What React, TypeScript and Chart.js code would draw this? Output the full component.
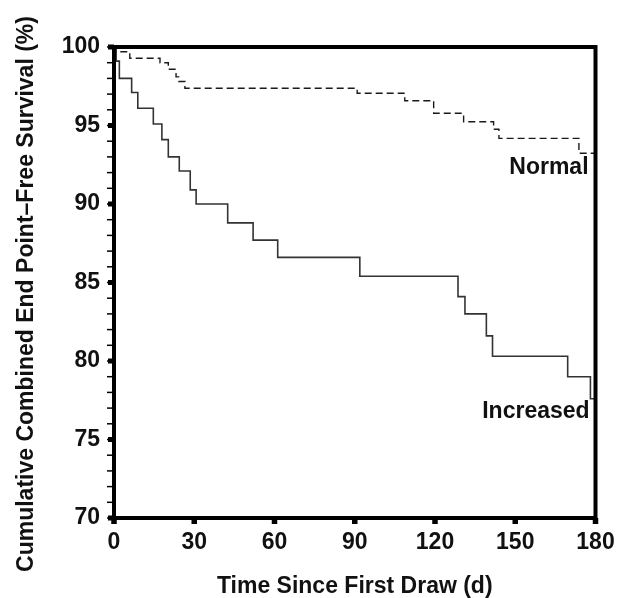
import React, { useEffect, useRef } from "react";
import { Chart, registerables } from "chart.js";

Chart.register(...registerables);

// ---- Data ----
const increasedDays = [0, 0.8, 2.0, 6.6, 8.9, 14.7, 17.9, 20.3, 24.4, 28.5, 30.7, 42.5, 52.0, 61.2, 91.9, 128.6, 131.2, 139.2, 141.5, 169.6, 178.1, 180];
const increasedSurvival = [100, 99.1, 98.0, 97.1, 96.1, 95.1, 94.1, 93.0, 92.1, 90.9, 90.0, 88.8, 87.7, 86.6, 85.4, 84.1, 83.0, 81.6, 80.3, 79.0, 77.6, 77.6];

const normalDays = [0, 0.6, 5.9, 17.2, 20.3, 23.2, 24.2, 26.5, 90.9, 108.7, 119.5, 130.7, 141.9, 143.9, 173.8, 180];
const normalSurvival = [100, 99.7, 99.28, 99.0, 98.58, 98.1, 97.8, 97.37, 97.05, 96.58, 95.78, 95.24, 94.76, 94.18, 93.23, 93.23];

const xTicks = [0, 30, 60, 90, 120, 150, 180];
const yMin = 70;
const yMax = 100;
const yStep = 5;
const yMinorStep = 1;

const xTitle = "Time Since First Draw (d)";
const yTitle = "Cumulative Combined End Point\u2013Free Survival (%)";

// curve labels: text, right-edge day, value (vertical centre)
const curveLabels = [
  { text: "Normal", day: 177.4, value: 92.3 },
  { text: "Increased", day: 177.8, value: 76.8 },
];

const FONT_FAMILY = '"Liberation Sans", Arial, Helvetica, sans-serif';
const FONT = { family: FONT_FAMILY, size: 23, weight: "bold" as const };

const framePlugin = {
  id: "framePlugin",
  afterDatasetsDraw(chart: any) {
    const { ctx, chartArea: a, scales } = chart;
    const xs = scales.x;
    const ys = scales.y;
    ctx.save();
    ctx.fillStyle = "#000";
    ctx.strokeStyle = "#000";
    // minor y ticks
    ctx.lineWidth = 1.5;
    for (let v = yMin; v <= yMax; v += yMinorStep) {
      const py = ys.getPixelForValue(v);
      ctx.beginPath();
      ctx.moveTo(a.left - 7, py);
      ctx.lineTo(a.left, py);
      ctx.stroke();
    }
    // major y ticks
    for (let v = yMin; v <= yMax; v += yStep) {
      const py = ys.getPixelForValue(v);
      ctx.fillRect(a.left - 6, py - 2.5, 6, 5);
    }
    // x ticks
    for (const t of xTicks) {
      const px = xs.getPixelForValue(t);
      ctx.fillRect(px - 2.75, a.bottom, 5.5, 6);
    }
    // frame
    ctx.lineWidth = 4;
    ctx.strokeRect(a.left, a.top, a.right - a.left, a.bottom - a.top);

    // curve labels
    ctx.font = `bold 23px ${FONT_FAMILY}`;
    ctx.fillStyle = "#111";
    ctx.textAlign = "right";
    ctx.textBaseline = "middle";
    for (const l of curveLabels) {
      ctx.fillText(l.text, xs.getPixelForValue(l.day), ys.getPixelForValue(l.value));
    }

    // y axis title (rotated)
    ctx.save();
    ctx.translate(33, (a.top + a.bottom) / 2 + 11.5);
    ctx.rotate(-Math.PI / 2);
    ctx.textAlign = "center";
    ctx.textBaseline = "alphabetic";
    ctx.fillText(yTitle, 0, 0);
    ctx.restore();

    ctx.restore();
  },
};

export default function App() {
  const canvasRef = useRef<HTMLCanvasElement | null>(null);

  useEffect(() => {
    const canvas = canvasRef.current;
    if (!canvas) return;
    const chart = new Chart(canvas, {
      type: "line",
      data: {
        datasets: [
          {
            label: "Normal",
            data: normalDays.map((d, i) => ({ x: d, y: normalSurvival[i] })),
            borderColor: "#1a1a1a",
            borderWidth: 1.4,
            borderDash: [7, 4],
            stepped: "before",
            pointRadius: 0,
            fill: false,
          },
          {
            label: "Increased",
            data: increasedDays.map((d, i) => ({ x: d, y: increasedSurvival[i] })),
            borderColor: "#333",
            borderWidth: 1.6,
            stepped: "before",
            pointRadius: 0,
            fill: false,
          },
        ],
      },
      options: {
        responsive: false,
        animation: false,
        layout: { padding: { top: 47, right: 21.5, left: 0, bottom: 0 } },
        plugins: {
          legend: { display: false },
          tooltip: { enabled: false },
          title: { display: false },
        },
        scales: {
          x: {
            type: "linear",
            min: 0,
            max: 180,
            afterFit(s: any) {
              s.height = 80;
              s.paddingLeft = 0;
              s.paddingRight = 0;
            },
            grid: { display: false, drawTicks: false },
            border: { display: false },
            ticks: {
              stepSize: 30,
              padding: 11,
              color: "#111",
              font: FONT,
              autoSkip: false,
              maxRotation: 0,
            },
            title: {
              display: true,
              text: xTitle,
              color: "#111",
              font: { ...FONT, lineHeight: 1 },
              padding: { top: 0, bottom: 0 },
            },
          },
          y: {
            type: "linear",
            min: yMin,
            max: yMax,
            afterFit(s: any) {
              s.width = 114;
              s.paddingTop = 0;
              s.paddingBottom = 0;
            },
            grid: { display: false, drawTicks: false },
            border: { display: false },
            ticks: {
              stepSize: yStep,
              padding: 14,
              color: "#111",
              font: FONT,
            },
          },
        },
      },
      plugins: [framePlugin],
    });
    return () => chart.destroy();
  }, []);

  return (
    <div style={{ position: "fixed", left: 0, top: 0, width: 617, height: 598, background: "#fff" }}>
      <canvas ref={canvasRef} width={617} height={598} style={{ display: "block" }} />
    </div>
  );
}
